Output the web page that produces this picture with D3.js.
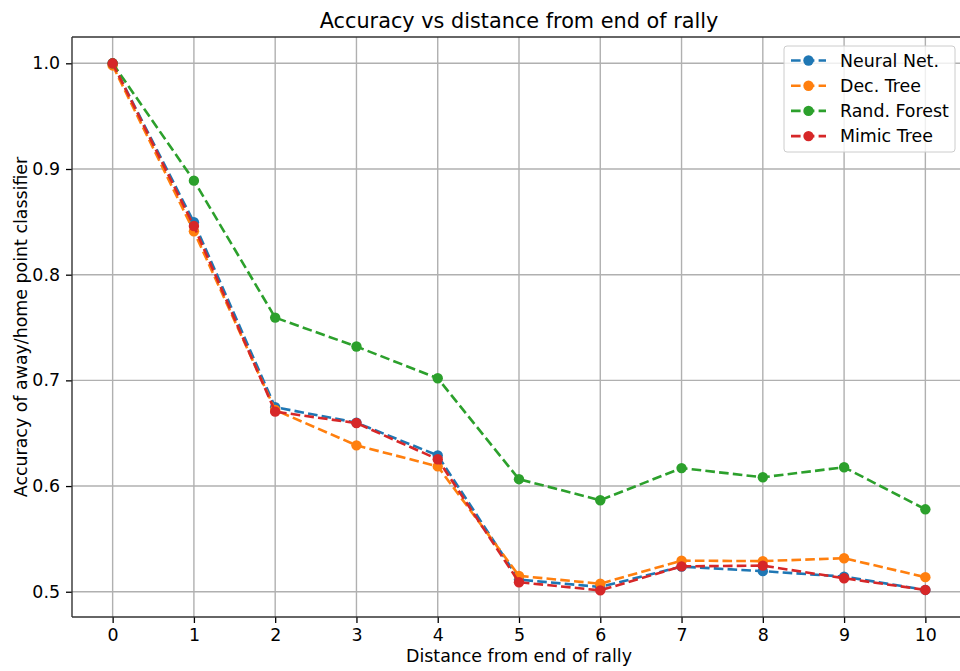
<!DOCTYPE html>
<html>
<head>
<meta charset="utf-8">
<script src="https://cdn.jsdelivr.net/npm/d3@7"></script>
<style>
  body { margin: 0; background: #fff; }
  svg { font-family: "DejaVu Sans", sans-serif; }
</style>
</head>
<body>
<div id="mywrap"></div>
<script>
// data
const distances = [0, 1, 2, 3, 4, 5, 6, 7, 8, 9, 10]
const seriesNames = ["Neural Net.", "Dec. Tree", "Rand. Forest", "Mimic Tree"]
const neuralNet = [1.0, 0.8496, 0.6746, 0.6600, 0.6290, 0.5115, 0.5045, 0.5238, 0.5195, 0.5143, 0.5017]
const decTree = [0.998, 0.8410, 0.6720, 0.6385, 0.6186, 0.5150, 0.5076, 0.5294, 0.5290, 0.5317, 0.5138]
const randForest = [1.0, 0.8890, 0.7594, 0.7320, 0.7020, 0.6065, 0.5866, 0.6170, 0.6083, 0.6178, 0.5780]
const mimicTree = [1.0, 0.8460, 0.6704, 0.6596, 0.6254, 0.5090, 0.5013, 0.5240, 0.5247, 0.5128, 0.5017]
const yTicks = [0.5, 0.6, 0.7, 0.8, 0.9, 1.0]
const colors = ["#1f77b4", "#ff7f0e", "#2ca02c", "#d62728"]

const allSeries = [neuralNet, decTree, randForest, mimicTree]

let svg = d3.select("#mywrap").append("svg")
    .attr("width", 960)
    .attr("height", 671)

let margin = {top: 37, left: 72}
let width = 894, height = 580

let xScale = d3.scaleLinear()
    .domain([-0.5, 10.5])
    .range([0, width])

let yScale = d3.scaleLinear()
    .domain([0.4761, 1.0249])
    .range([height, 0])

let g = svg.append("g")
    .attr("transform", `translate(${margin.left},${margin.top})`)

// grid
g.append("g")
    .selectAll("line")
    .data(distances)
    .enter()
    .append("line")
    .attr("x1", d => xScale(d)).attr("x2", d => xScale(d))
    .attr("y1", 0).attr("y2", height)
    .attr("stroke", "#b0b0b0").attr("stroke-width", 1.4)

g.append("g")
    .selectAll("line")
    .data(yTicks)
    .enter()
    .append("line")
    .attr("x1", 0).attr("x2", width)
    .attr("y1", d => yScale(d)).attr("y2", d => yScale(d))
    .attr("stroke", "#b0b0b0").attr("stroke-width", 1.4)

// axes
let xAxis = d3.axisBottom(xScale).tickValues(distances).tickFormat(d3.format("d")).tickSizeOuter(0).tickSize(6).tickPadding(6)
let yAxis = d3.axisLeft(yScale).tickValues(yTicks).tickFormat(d3.format(".1f")).tickSizeOuter(0).tickSize(6).tickPadding(6)

let gx = g.append("g")
    .attr("transform", `translate(0,${height})`)
    .call(xAxis)
let gy = g.append("g").call(yAxis)

for (let a of [gx, gy]) {
    a.selectAll("text").attr("font-size", "17.4px").attr("fill", "#000").attr("font-family", "DejaVu Sans")
    a.selectAll("line").attr("stroke", "#000").attr("stroke-width", 1.3)
    a.select(".domain").remove()
}

// spines
let spine = "#333"
g.append("line").attr("x1", 0).attr("x2", width).attr("y1", height).attr("y2", height).attr("stroke", spine).attr("stroke-width", 1.4)
g.append("line").attr("x1", 0).attr("x2", width).attr("y1", 0).attr("y2", 0).attr("stroke", spine).attr("stroke-width", 1.4)
g.append("line").attr("x1", 0).attr("x2", 0).attr("y1", 0).attr("y2", height).attr("stroke", spine).attr("stroke-width", 1.4)
g.append("line").attr("x1", width).attr("x2", width).attr("y1", 0).attr("y2", height).attr("stroke", spine).attr("stroke-width", 1.4)

// lines
let line = d3.line()
    .x((d, i) => xScale(distances[i]))
    .y(d => yScale(d))

allSeries.forEach((s, k) => {
    g.append("path")
        .datum(s)
        .attr("d", line)
        .attr("fill", "none")
        .attr("stroke", colors[k])
        .attr("stroke-width", 2.6)
        .attr("stroke-dasharray", "9.6,4.2")

    g.append("g")
        .selectAll("circle")
        .data(s)
        .enter()
        .append("circle")
        .attr("cx", (d, i) => xScale(distances[i]))
        .attr("cy", d => yScale(d))
        .attr("r", 5.2)
        .attr("fill", colors[k])
})

// title and labels
svg.append("text")
    .attr("x", margin.left + width / 2).attr("y", 28)
    .attr("text-anchor", "middle")
    .attr("font-size", "20.8px")
    .text("Accuracy vs distance from end of rally")

svg.append("text")
    .attr("x", margin.left + width / 2).attr("y", 662)
    .attr("text-anchor", "middle")
    .attr("font-size", "17.4px")
    .text("Distance from end of rally")

svg.append("text")
    .attr("transform", `translate(27,${margin.top + height / 2}) rotate(-90)`)
    .attr("text-anchor", "middle")
    .attr("font-size", "17.4px")
    .text("Accuracy of away/home point classifier")

// legend
let lg = svg.append("g").attr("transform", "translate(784,46)")
lg.append("rect")
    .attr("width", 171).attr("height", 106)
    .attr("rx", 3)
    .attr("fill", "#fff").attr("fill-opacity", 0.8)
    .attr("stroke", "#cccccc").attr("stroke-width", 1)

seriesNames.forEach((name, k) => {
    let row = lg.append("g").attr("transform", `translate(0,${14.5 + k * 25.2})`)
    row.append("line")
        .attr("x1", 7).attr("x2", 42)
        .attr("stroke", colors[k]).attr("stroke-width", 2.6)
        .attr("stroke-dasharray", "9.6,4.2")
    row.append("circle").attr("cx", 24.5).attr("r", 5.2).attr("fill", colors[k])
    row.append("text")
        .attr("x", 56).attr("y", 6)
        .attr("font-size", "17.4px")
        .text(name)
})
</script>
</body>
</html>
